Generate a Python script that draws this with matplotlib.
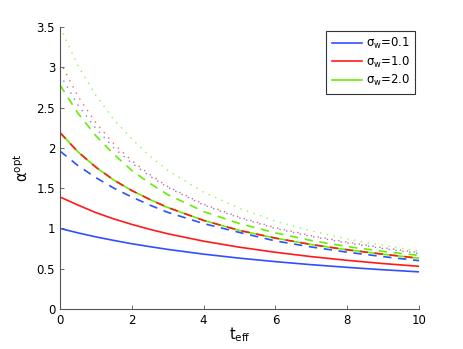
import numpy as np
import matplotlib
matplotlib.use('Agg')
import matplotlib.pyplot as plt

# values
t_eff = [0, 0.5, 1, 1.5, 2, 2.5, 3, 4, 5, 6, 7, 8, 9, 10]

# solid lines
solid_01 = [1.00, 0.945, 0.895, 0.851, 0.810, 0.774, 0.740, 0.681, 0.631, 0.588, 0.550, 0.517, 0.487, 0.461]
solid_10 = [1.39, 1.29, 1.196, 1.118, 1.05, 0.989, 0.934, 0.842, 0.767, 0.704, 0.650, 0.604, 0.564, 0.530]
solid_20 = [2.19, 1.95, 1.76, 1.60, 1.47, 1.36, 1.26, 1.10, 0.975, 0.88, 0.80, 0.735, 0.68, 0.63]

# dashed lines
dashed_01 = [1.96, 1.78, 1.63, 1.50, 1.39, 1.29, 1.20, 1.06, 0.95, 0.845, 0.77, 0.705, 0.65, 0.60]
dashed_10 = [2.19, 1.95, 1.76, 1.60, 1.47, 1.36, 1.26, 1.10, 0.975, 0.88, 0.80, 0.735, 0.68, 0.63]
dashed_20 = [2.78, 2.43, 2.15, 1.92, 1.72, 1.56, 1.42, 1.21, 1.06, 0.945, 0.85, 0.775, 0.715, 0.665]

# dotted lines
dotted_01 = [2.91, 2.53, 2.24, 2.00, 1.81, 1.65, 1.51, 1.29, 1.13, 1.00, 0.90, 0.82, 0.75, 0.69]
dotted_10 = [3.07, 2.64, 2.31, 2.05, 1.84, 1.67, 1.52, 1.30, 1.14, 1.01, 0.91, 0.83, 0.76, 0.70]
dotted_20 = [3.50, 3.02, 2.65, 2.35, 2.11, 1.90, 1.72, 1.45, 1.25, 1.09, 0.97, 0.87, 0.79, 0.72]

sigma_labels = ['0.1', '1.0', '2.0']
colors = ['#3050ff', '#ff1a1a', '#66ee00']

fig = plt.figure(figsize=(4.63, 3.49), dpi=100)
ax = fig.add_axes([0.1296, 0.1146, 0.7754, 0.808])

solids = [solid_01, solid_10, solid_20]
dashes = [dashed_01, dashed_10, dashed_20]
dots = [dotted_01, dotted_10, dotted_20]

for i in range(3):
    ax.plot(t_eff, solids[i], '-', color=colors[i], lw=1.2,
            label=r'$\mathrm{\sigma_w}$=' + sigma_labels[i])
for i in range(3):
    ax.plot(t_eff, dashes[i], '--', color=colors[i], lw=1.2, dashes=(5, 4))
for i in range(3):
    ax.plot(t_eff, dots[i], color=colors[i], lw=1.0, alpha=0.7, dashes=(1, 4))

ax.set_xlim(0, 10)
ax.set_ylim(0, 3.5)
ax.set_xticks([0, 2, 4, 6, 8, 10])
ax.set_yticks([0, 0.5, 1, 1.5, 2, 2.5, 3, 3.5])
ax.set_yticklabels(['0', '0.5', '1', '1.5', '2', '2.5', '3', '3.5'])
ax.tick_params(direction='in', labelsize=8.5, length=3, width=0.6, color='#555555')
for s in ['top', 'right']:
    ax.spines[s].set_visible(False)
for s in ['left', 'bottom']:
    ax.spines[s].set_color('#555555')
    ax.spines[s].set_linewidth(0.8)

ax.set_xlabel(r'$\mathrm{t_{eff}}$', fontsize=10.5, labelpad=-1)
ax.set_ylabel(r'$\mathrm{\alpha^{opt}}$', fontsize=10.5, labelpad=4)

leg = ax.legend(loc='upper right', bbox_to_anchor=(1.0, 1.0), fontsize=8.5,
                fancybox=False, edgecolor='#333333', framealpha=1,
                handlelength=2.6, borderpad=0.45, labelspacing=0.3,
                handletextpad=0.3, borderaxespad=0.3)
leg.get_frame().set_linewidth(0.8)

fig.savefig('out.png', dpi=100)
